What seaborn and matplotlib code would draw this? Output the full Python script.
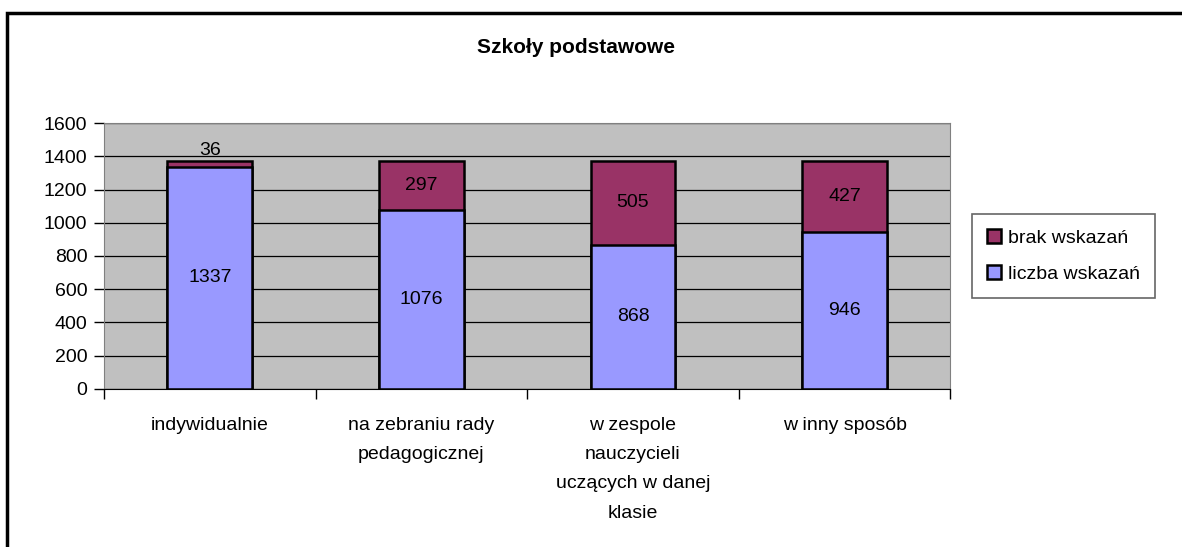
import matplotlib
matplotlib.use("Agg")
import matplotlib.pyplot as plt
import seaborn as sns
import pandas as pd
from matplotlib.patches import Rectangle

# dane
kategorie = ["indywidualnie", "na zebraniu rady\npedagogicznej",
             "w zespole\nnauczycieli\nuczących w danej\nklasie", "w inny sposób"]
liczba_wskazan = [1337, 1076, 868, 946]
brak_wskazan = [36, 297, 505, 427]

sns.set_style("white")
plt.rcParams['font.family'] = ['Liberation Sans', 'DejaVu Sans']
plt.rcParams['text.color'] = 'black'
plt.rcParams['xtick.color'] = 'black'
plt.rcParams['ytick.color'] = 'black'

fs = 14

fig = plt.figure(figsize=(11.82, 5.47), dpi=100)
ax = fig.add_axes([0.088, 0.289, 0.716, 0.486])

df = pd.DataFrame({"kategoria": kategorie, "liczba": liczba_wskazan,
                   "suma": [a + b for a, b in zip(liczba_wskazan, brak_wskazan)]})

# gorna czesc (suma) najpierw, potem dolna
sns.barplot(data=df, x="kategoria", y="suma", color="#993366", width=0.4,
            edgecolor="black", linewidth=1.8, saturation=1, ax=ax, label="brak wskazań")
sns.barplot(data=df, x="kategoria", y="liczba", color="#9999FF", width=0.4,
            edgecolor="black", linewidth=1.8, saturation=1, ax=ax, label="liczba wskazań")

# etykiety wartosci
for i, (a, b) in enumerate(zip(liczba_wskazan, brak_wskazan)):
    ax.text(i, a / 2, str(a), ha="center", va="center", fontsize=fs)
    if b < 100:
        ax.text(i, a + b + 8, str(b), ha="center", va="bottom", fontsize=fs)
    else:
        ax.text(i, a + b / 2, str(b), ha="center", va="center", fontsize=fs)

ax.set_facecolor("#C0C0C0")
ax.set_ylim(0, 1600)
ax.set_xlim(-0.5, 3.5)
ax.set_yticks(range(0, 1601, 200))
ax.yaxis.grid(True, color="black", linewidth=0.9)
ax.set_axisbelow(True)
for s in ["top", "right", "left"]:
    ax.spines[s].set_color("#808080")
ax.spines["bottom"].set_color("black")
ax.set_xlabel("")
ax.set_ylabel("")
ax.tick_params(axis="y", which="both", left=True, length=7, width=1,
               labelsize=fs, pad=5)
ax.set_xticks(range(4))
ax.set_xticklabels(kategorie, fontsize=fs, linespacing=1.95)
ax.tick_params(axis="x", length=0, pad=20)
# znaczniki miedzy kategoriami
ax.set_xticks([-0.5, 0.5, 1.5, 2.5, 3.5], minor=True)
ax.tick_params(axis="x", which="minor", length=7, width=1, bottom=True)

fig.text(576 / 1182, 1 - 48 / 547, "Szkoły podstawowe", fontsize=15,
         fontweight="bold", ha="center", va="center")

handles, labels = ax.get_legend_handles_labels()
leg = ax.legend(handles, labels, loc="center left", bbox_to_anchor=(1.026, 0.5),
                borderaxespad=0, frameon=True, fancybox=False, edgecolor="#404040",
                fontsize=fs, handlelength=0.75, handleheight=0.75, handletextpad=0.35,
                borderpad=0.75, labelspacing=0.95)
leg.get_frame().set_linewidth(1.2)

# ramka wykresu
fig.patches.append(Rectangle((7 / 1182, -0.05), 1.2, 1 - 13 / 547 + 0.05,
                             transform=fig.transFigure, fill=False,
                             edgecolor="black", linewidth=2.5))

fig.savefig("out.png", dpi=100)
